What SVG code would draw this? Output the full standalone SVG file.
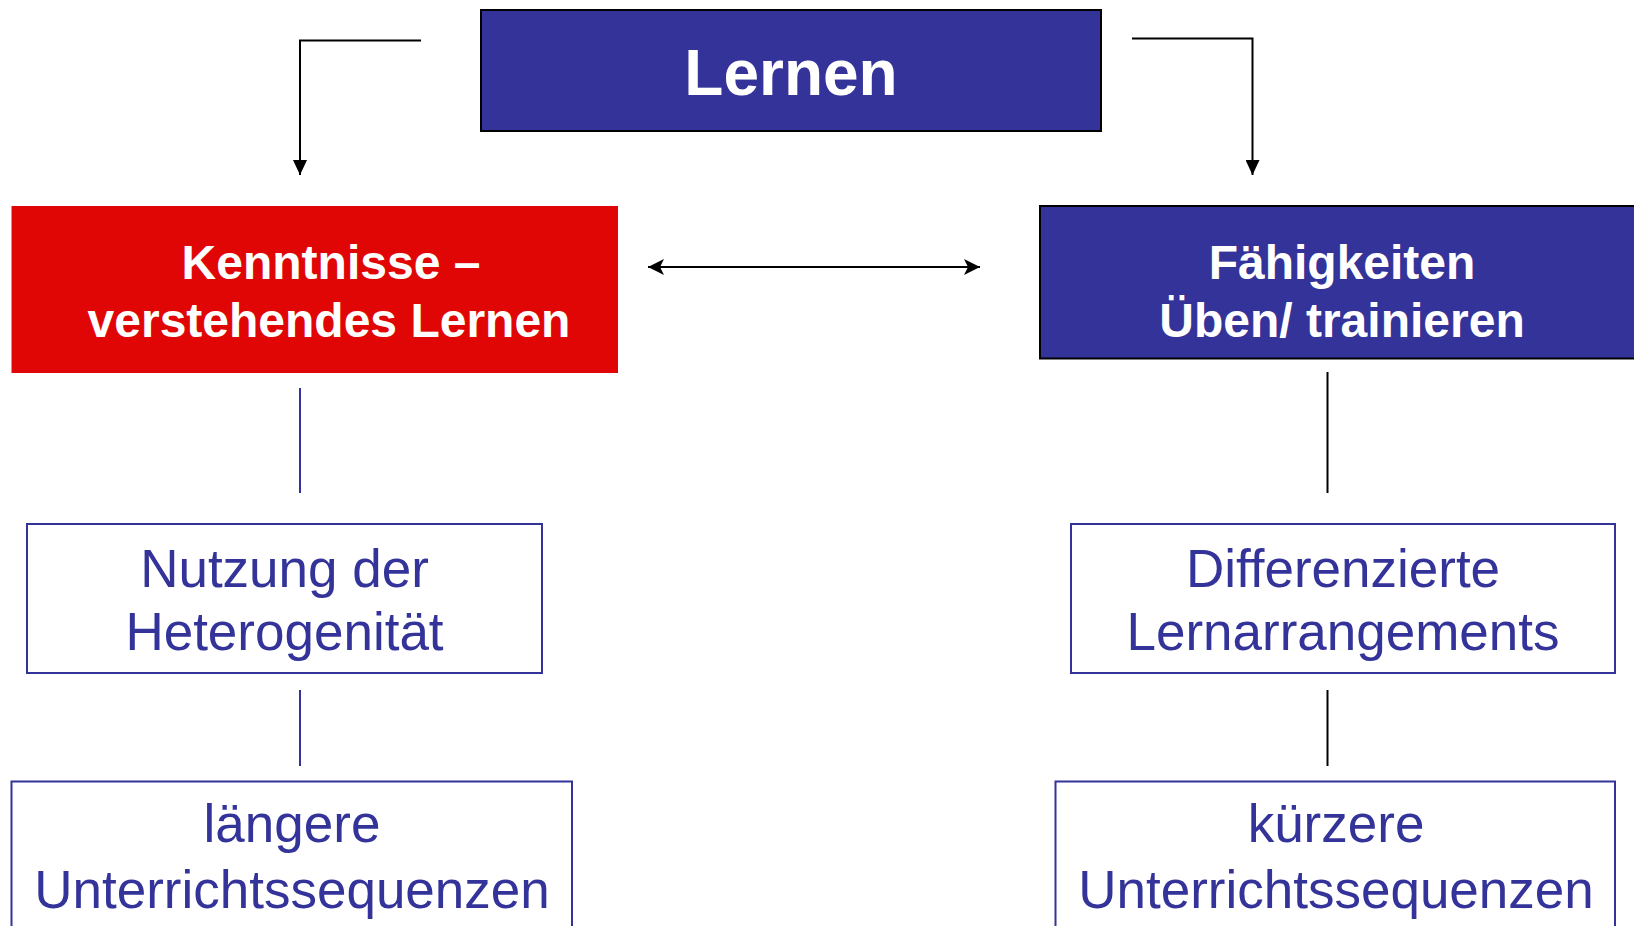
<svg xmlns="http://www.w3.org/2000/svg" width="1634" height="926" viewBox="0 0 1634 926">
<style>
.wbox{fill:#ffffff;stroke:#333399;stroke-width:2}
.bt{font-family:"Liberation Sans",Arial,sans-serif;font-weight:bold;fill:#ffffff;text-anchor:middle}
.nt{font-family:"Liberation Sans",Arial,sans-serif;fill:#333399;text-anchor:middle;font-size:53px}
.conn{fill:none;stroke:#000000;stroke-width:2}
.connb{fill:none;stroke:#333399;stroke-width:2}
</style>
<defs>
<marker id="arr" markerUnits="userSpaceOnUse" markerWidth="16" markerHeight="14" refX="15" refY="7" orient="auto">
<path d="M0,0 L15,7 L0,14 z" fill="#000000"/>
</marker>
<marker id="arr2" markerUnits="userSpaceOnUse" markerWidth="18" markerHeight="16" refX="16" refY="8" orient="auto-start-reverse">
<path d="M0,0 L16,8 L0,16 L4,8 z" fill="#000000"/>
</marker>
</defs>
<rect width="1634" height="926" fill="#ffffff"/>
<g id="connectors">
<path class="conn" d="M421,40.5 H300 V175" marker-end="url(#arr)"/>
<path class="conn" d="M1132,38.5 H1252.5 V175" marker-end="url(#arr)"/>
<line class="conn" x1="648" y1="267" x2="980" y2="267" marker-start="url(#arr2)" marker-end="url(#arr2)"/>
<line class="connb" x1="300" y1="388" x2="300" y2="493"/>
<line class="conn" x1="1327.5" y1="372" x2="1327.5" y2="493"/>
<line class="connb" x1="300" y1="690" x2="300" y2="766"/>
<line class="conn" x1="1327.5" y1="690" x2="1327.5" y2="766"/>
</g>
<g id="lernen">
<rect x="481" y="10" width="620" height="121" fill="#333399" stroke="#000000" stroke-width="2"/>
<text class="bt" x="791" y="95" font-size="64">Lernen</text>
</g>
<g id="kenntnisse">
<rect x="11.5" y="206" width="606.5" height="167" fill="#e00606"/>
<text class="bt" x="331" y="279" font-size="48">Kenntnisse –</text>
<text class="bt" x="329" y="337" font-size="48">verstehendes Lernen</text>
</g>
<g id="faehigkeiten">
<rect x="1040" y="206" width="610" height="152.5" fill="#333399" stroke="#000000" stroke-width="2"/>
<text class="bt" x="1342" y="279" font-size="48">Fähigkeiten</text>
<text class="bt" x="1342" y="337" font-size="48">Üben/ trainieren</text>
</g>
<g id="nutzung">
<rect class="wbox" x="27" y="524" width="515" height="149"/>
<text class="nt" x="284.5" y="587">Nutzung der</text>
<text class="nt" x="284.5" y="650">Heterogenität</text>
</g>
<g id="differenzierte">
<rect class="wbox" x="1071" y="524" width="544" height="149"/>
<text class="nt" x="1343" y="587">Differenzierte</text>
<text class="nt" x="1343" y="650">Lernarrangements</text>
</g>
<g id="laengere">
<rect class="wbox" x="11.5" y="781.5" width="560.5" height="160"/>
<text class="nt" x="292" y="842">längere</text>
<text class="nt" x="292" y="908">Unterrichtssequenzen</text>
</g>
<g id="kuerzere">
<rect class="wbox" x="1055.5" y="781.5" width="559.5" height="160"/>
<text class="nt" x="1336" y="842">kürzere</text>
<text class="nt" x="1336" y="908">Unterrichtssequenzen</text>
</g>
</svg>
